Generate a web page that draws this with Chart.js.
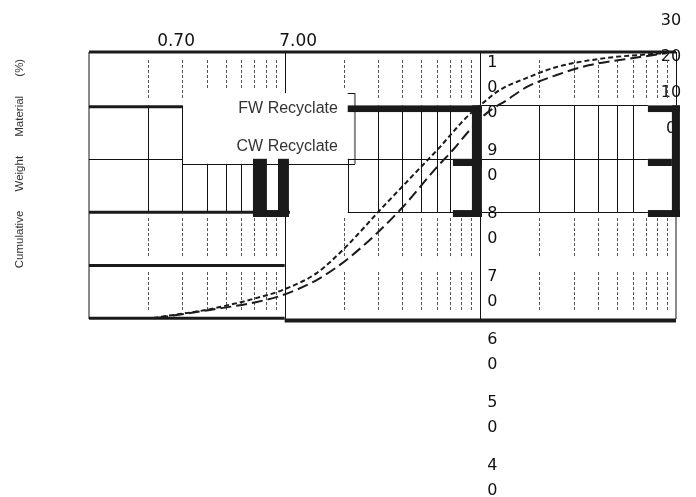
<!DOCTYPE html>
<html>
<head>
<meta charset="utf-8">
<script src="https://cdn.jsdelivr.net/npm/chart.js@4.4.1/dist/chart.umd.min.js"></script>
<style>
  html, body { margin: 0; padding: 0; background: #fff; }
</style>
</head>
<body>
<canvas id="grading" width="696" height="497"></canvas>
<script>
// grading curves: particle size (mm) vs cumulative passing (%)
const seriesNames = ['FW Recyclate', 'CW Recyclate'];
const fwSize    = [0.149, 0.291, 0.505, 0.686, 1.02, 1.42, 2.15, 3.56, 4.35, 5.07, 5.98, 7.22, 8.81, 12.1, 17.2, 31.1, 45.8, 62.9];
const fwPassing = [0.4, 3.7, 7.9, 10.9, 17.2, 26.6, 40.8, 57.7, 64.4, 70.0, 75.7, 80.9, 85.8, 90.3, 94.4, 97.8, 98.9, 99.6];
const cwSize    = [0.156, 0.291, 0.505, 0.686, 1.02, 1.51, 2.72, 4.20, 5.07, 6.19, 7.57, 9.57, 12.1, 17.2, 25.4, 45.8, 62.9];
const cwPassing = [0.4, 3.4, 6.4, 9.0, 14.6, 23.2, 40.8, 56.9, 63.3, 70.8, 77.2, 82.0, 86.9, 91.4, 95.1, 98.1, 99.6];

// axis grid and the (misplaced) labels of the original figure
const gridDecades = [0.07, 0.7, 7];
const gridSteps = [1, 2, 3, 4, 5, 6, 7, 8, 9];
const xLabelValues = [0.195, 0.82];
const xTickLabels = ['0.70', '7.00'];
const yTickLabels = ['100', '90', '80', '70', '60', '50', '40'];
const rightTickLabels = ['30', '20', '10', '0'];
const yTitle = 'Cumulative      Weight      Material      (%)';

const gridValues = [];
gridDecades.forEach(d => gridSteps.forEach(s => gridValues.push(+(d * s).toFixed(4))));
gridValues.push(70);
const majorValues = [0.07, 0.7, 7, 70];

// stray strokes of the figure, in axis units (size, percent)
const heavyRules = [   // [from, to, percent, width]
    [0.07, 70, 100, 3],
    [0.07, 0.21, 79.5, 3],
    [0.07, 0.745, 40, 3],
    [0.07, 0.7, 20, 3],
    [0.07, 0.7, 0.3, 3],
    [0.7, 70, -0.6, 4]
];
const thinRules = [    // [from, to, percent]
    [0.07, 0.21, 60],
    [1.47, 5.07, 60],
    [7.13, 50.3, 60],
    [1.47, 50.3, 40],
    [7.13, 50.3, 80],
    [0.21, 1.6, 58.1],
    [1.47, 1.6, 84.6]
];
const blocks = [       // [from, to, top, bottom]
    [1.47, 7.13, 80, 77.5], [6.34, 7.13, 80, 38.2], [5.07, 7.13, 60, 57.3], [5.07, 7.13, 40.8, 38.2],
    [50.3, 73.3, 80, 77.5], [66.7, 73.3, 80, 38.2], [50.3, 66.7, 60, 57.3], [50.3, 73.3, 40.8, 38.2],
    [0.482, 0.568, 60, 38.2], [0.647, 0.736, 60, 38.2], [0.482, 0.736, 40.8, 38.2]
];
const solidPosts = [   // [size, top, bottom]
    [0.7, 100, 84.6], [0.7, 40, 0], [7, 100, 80], [7, 40, 0],
    [0.14, 80, 40], [0.21, 80, 40], [0.28, 58.1, 40], [0.35, 58.1, 40], [0.42, 58.1, 40],
    [2.1, 80, 40], [2.8, 80, 40], [3.5, 80, 40], [4.2, 80, 40], [4.9, 80, 40],
    [14, 80, 40], [21, 80, 40], [28, 80, 40], [35, 80, 40], [42, 80, 40],
    [1.47, 60, 40], [70, 100, 80]
];
const greyPosts = [[0.07, 100, 0], [70, 38.2, 0], [1.6, 84.6, 58.1]];
const dashBands = [[97, 82.4], [37.8, 22.8], [17.6, 3.4]];
const legendBox = [0.21, 1.6, 84.6, 58.1];

const figurePlugin = {
    id: 'figure',
    beforeDatasetsDraw(chart) {
        const ctx = chart.ctx;
        const sx = chart.scales.x, sy = chart.scales.y;
        const X = v => sx.getPixelForValue(v);
        const Y = v => sy.getPixelForValue(v);
        const area = chart.chartArea;
        ctx.save();

        // labels at the right hand side (drawn under the bracket)
        ctx.fillStyle = '#111';
        ctx.font = '16px "DejaVu Sans"';
        ctx.textAlign = 'center';
        ctx.textBaseline = 'middle';
        rightTickLabels.forEach((t, i) => ctx.fillText(t, area.right - 5, area.top - 31 + 35.8 * i));

        // dashed minor grid
        ctx.strokeStyle = '#555';
        ctx.lineWidth = 1;
        ctx.setLineDash([3, 2]);
        gridValues.forEach(v => {
            if (majorValues.some(m => Math.abs(m - v) < 1e-6)) return;
            const px = Math.round(X(v)) + 0.5;
            dashBands.forEach(([a, b], i) => {
                let end = b;
                if (i === 0 && v > legendBox[0] && v < legendBox[1]) end = 86.1;
                ctx.beginPath();
                ctx.moveTo(px, Y(a));
                ctx.lineTo(px, Y(end));
                ctx.stroke();
            });
        });
        ctx.setLineDash([]);

        // solid posts
        ctx.strokeStyle = '#111';
        solidPosts.forEach(([v, a, b]) => {
            const px = Math.round(X(v)) + 0.5;
            ctx.beginPath();
            ctx.moveTo(px, Y(a));
            ctx.lineTo(px, Y(b));
            ctx.stroke();
        });
        ctx.strokeStyle = '#8a8a8a';
        ctx.lineWidth = 2;
        greyPosts.forEach(([v, a, b]) => {
            ctx.beginPath();
            ctx.moveTo(X(v), Y(a));
            ctx.lineTo(X(v), Y(b));
            ctx.stroke();
        });

        // thin and heavy rules
        ctx.strokeStyle = '#111';
        ctx.lineWidth = 1;
        thinRules.forEach(([a, b, p]) => {
            const py = Math.round(Y(p)) + 0.5;
            ctx.beginPath();
            ctx.moveTo(X(a), py);
            ctx.lineTo(X(b), py);
            ctx.stroke();
        });
        ctx.strokeStyle = '#1a1a1a';
        heavyRules.forEach(([a, b, p, w]) => {
            ctx.lineWidth = w;
            ctx.beginPath();
            ctx.moveTo(X(a), Y(p));
            ctx.lineTo(X(b), Y(p));
            ctx.stroke();
        });

        // black blocks
        ctx.fillStyle = '#1a1a1a';
        blocks.forEach(([a, b, t, u]) => {
            ctx.fillRect(X(a), Y(t), X(b) - X(a), Y(u) - Y(t));
        });

        // legend text
        const boxRight = X(legendBox[1]), boxTop = Y(legendBox[2]);
        ctx.fillStyle = '#333';
        ctx.font = '16px "Liberation Sans"';
        ctx.textAlign = 'right';
        ctx.textBaseline = 'middle';
        ctx.fillText(seriesNames[0], boxRight - 17, boxTop + 15.5);
        ctx.fillText(seriesNames[1], boxRight - 17, boxTop + 53);

        // axis title
        ctx.save();
        ctx.translate(20, (area.top + area.bottom) / 2 - 22);
        ctx.rotate(-Math.PI / 2);
        ctx.textAlign = 'center';
        ctx.font = '11.5px "Liberation Sans"';
        ctx.fillStyle = '#333';
        ctx.fillText(yTitle, 0, 0);
        ctx.restore();

        ctx.restore();
    },
    afterDatasetsDraw(chart) {
        // the percentage labels, broken into one digit per line
        const ctx = chart.ctx;
        const sx = chart.scales.x;
        const area = chart.chartArea;
        ctx.save();
        ctx.fillStyle = '#111';
        ctx.font = '16px "DejaVu Sans"';
        ctx.textAlign = 'center';
        ctx.textBaseline = 'middle';
        const cx = sx.getPixelForValue(7) + 12;
        yTickLabels.forEach((label, i) => {
            const last = area.top + 61 + 63 * i;
            const chars = label.split('');
            chars.forEach((c, j) => ctx.fillText(c, cx, last - (chars.length - 1 - j) * 25));
        });
        ctx.restore();
    }
};

const ctx = document.getElementById('grading').getContext('2d');
const chart = new Chart(ctx, {
    type: 'line',
    data: {
        datasets: [{
            label: seriesNames[0],
            data: fwSize.map((s, i) => ({ x: s, y: fwPassing[i] })),
            borderColor: '#1b1b1b',
            borderWidth: 2,
            borderDash: [5, 3],
            pointRadius: 0,
            cubicInterpolationMode: 'monotone',
            fill: false
        }, {
            label: seriesNames[1],
            data: cwSize.map((s, i) => ({ x: s, y: cwPassing[i] })),
            borderColor: '#1b1b1b',
            borderWidth: 2,
            borderDash: [11, 5],
            pointRadius: 0,
            cubicInterpolationMode: 'monotone',
            fill: false
        }]
    },
    options: {
        responsive: false,
        animation: false,
        layout: { padding: { left: 89, right: 20, top: 31.6, bottom: 178 } },
        plugins: {
            legend: { display: false },
            tooltip: { enabled: false }
        },
        scales: {
            x: {
                type: 'logarithmic',
                min: 0.07,
                max: 70,
                display: false,
                ticks: { autoSkip: false },
                afterBuildTicks: scale => { scale.ticks = gridValues.map(v => ({ value: v })); }
            },
            xTop: {
                type: 'logarithmic',
                position: 'top',
                min: 0.07,
                max: 70,
                grid: { display: false, drawTicks: false },
                border: { display: false },
                afterBuildTicks: scale => { scale.ticks = xLabelValues.map(v => ({ value: v })); },
                ticks: {
                    autoSkip: false,
                    maxRotation: 0,
                    padding: 0,
                    color: '#111',
                    font: { family: 'DejaVu Sans', size: 17 },
                    callback: (value, index) => xTickLabels[index]
                }
            },
            y: { min: 0, max: 100, display: false }
        }
    },
    plugins: [figurePlugin]
});
</script>
</body>
</html>
